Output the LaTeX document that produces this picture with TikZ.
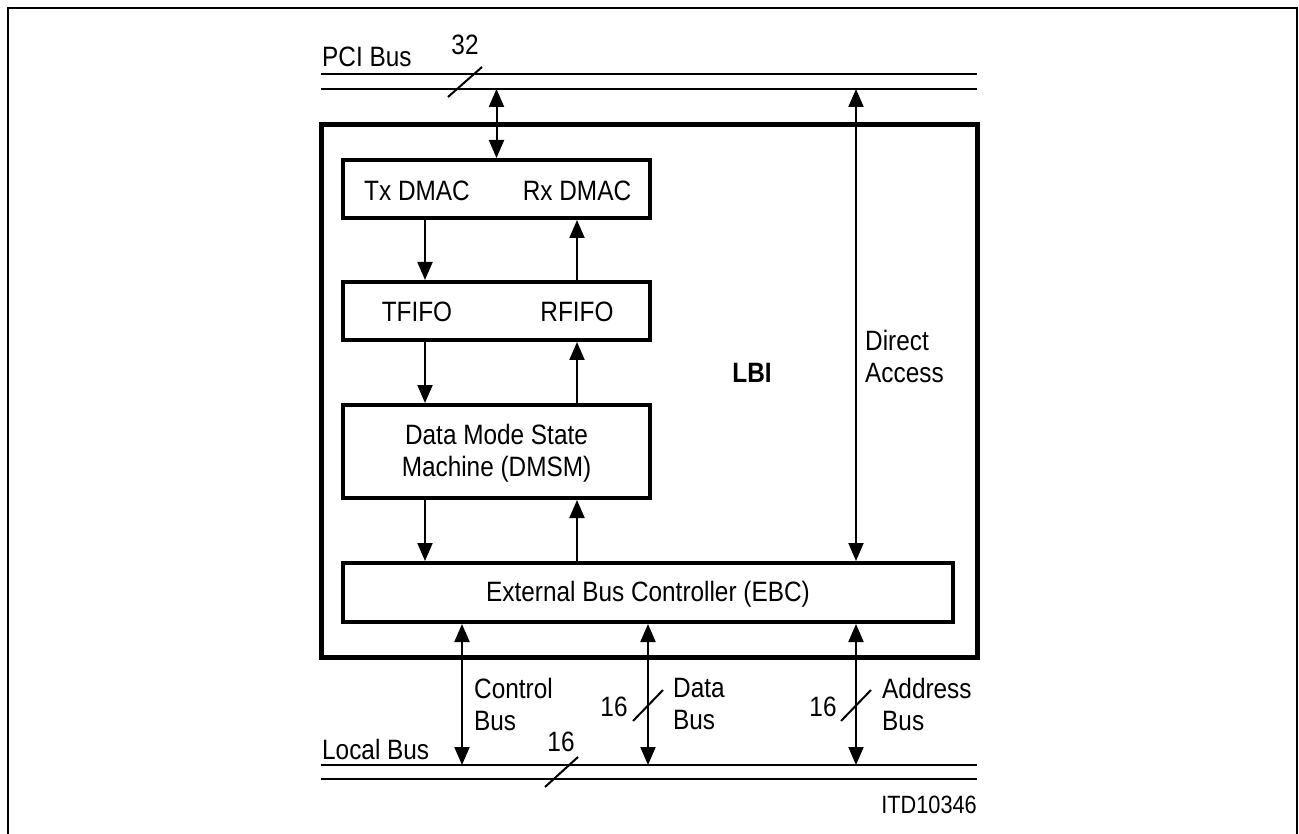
\documentclass[tikz,border=0pt]{standalone}
\usepackage{fontspec}
\setmainfont[FakeStretch=0.87]{Liberation Sans}
\usetikzlibrary{arrows.meta}
\begin{document}
\begin{tikzpicture}[x=1pt,y=-1pt,
  txt/.style={font=\fontsize{28}{32}\selectfont, inner sep=0pt},
  lbltxt/.style={txt, anchor=west, align=left},
  blk/.style={draw, line width=4pt, inner sep=0pt},
  bus/.style={line width=2pt},
  conn/.style={line width=2pt},
  arr/.style={conn, -{Triangle[width=15pt,length=18pt]}},
  darr/.style={conn, {Triangle[width=15pt,length=18pt]}-{Triangle[width=15pt,length=18pt]}},
  slash/.style={line width=2pt}
]
\useasboundingbox (0,0) rectangle (1299,834);
% outer frame
\draw[line width=2.5pt] (8,845) -- (8,8) -- (1297,8) -- (1297,845);

% PCI bus
\coordinate (pciL1) at (321,74); \coordinate (pciR1) at (977,74);
\coordinate (pciL2) at (321,89); \coordinate (pciR2) at (977,89);
\draw[bus] (pciL1) -- (pciR1);
\draw[bus] (pciL2) -- (pciR2);
\node[txt, anchor=base west] (pcilbl) at (322,67) {PCI Bus};
\coordinate (ps1) at (448,97); \coordinate (ps2) at (482,67);
\draw[slash] (ps1) -- (ps2);
\node[txt, anchor=base] (p32) at (465,55) {32};

% Local bus
\coordinate (locL1) at (321,765); \coordinate (locR1) at (977,765);
\coordinate (locL2) at (321,779); \coordinate (locR2) at (977,779);
\draw[bus] (locL1) -- (locR1);
\draw[bus] (locL2) -- (locR2);
\node[txt, anchor=base west] (loclbl) at (322,759) {Local Bus};
\coordinate (ls1) at (545,787); \coordinate (ls2) at (578,757);
\draw[slash] (ls1) -- (ls2);
\node[txt, anchor=base] (l16) at (561,751) {16};

% LBI box
\node[draw, line width=5pt, minimum width=656pt, minimum height=532pt, inner sep=0pt] (lbi) at (649,391) {};
\node[txt, font=\fontsize{28}{32}\selectfont\bfseries, anchor=base] (lbilbl) at (752,382) {LBI};

% inner blocks
\node[blk, minimum width=307pt, minimum height=58pt] (dmac) at (496.5,189) {};
\node[txt, anchor=base] (tx) at (417,201) {Tx DMAC};
\node[txt, anchor=base] (rx) at (577,201) {Rx DMAC};

\node[blk, minimum width=307pt, minimum height=58pt] (fifo) at (496.5,311) {};
\node[txt, anchor=base] (tf) at (417,322) {TFIFO};
\node[txt, anchor=base] (rf) at (577,322) {RFIFO};

\node[blk, minimum width=307pt, minimum height=93pt] (dmsm) at (496.5,451.5) {};
\node[txt, align=center] (dmsmlbl) at (496.5,453) {Data Mode State\\Machine (DMSM)};

\node[blk, minimum width=610pt, minimum height=59pt] (ebc) at (648,592.5) {};
\node[txt, anchor=base] (ebclbl) at (648,601) {External Bus Controller (EBC)};

% column coordinates
\coordinate (cl) at (425,0);
\coordinate (cr) at (577,0);
\coordinate (cp) at (496.5,0);
\coordinate (cd) at (856,0);
\coordinate (b1) at (462,0);
\coordinate (b2) at (648,0);
\coordinate (b3) at (856,0);

% connectors
\draw[darr] (pciL2 -| cp) -- (dmac.north);
\draw[arr] (dmac.south -| cl) -- (fifo.north -| cl);
\draw[arr] (fifo.north -| cr) -- (dmac.south -| cr);
\draw[arr] (fifo.south -| cl) -- (dmsm.north -| cl);
\draw[arr] (dmsm.north -| cr) -- (fifo.south -| cr);
\draw[arr] (dmsm.south -| cl) -- (ebc.north -| cl);
\draw[arr] (ebc.north -| cr) -- (dmsm.south -| cr);
\draw[darr] (pciL2 -| cd) -- (ebc.north -| cd);
\node[lbltxt] (dalbl) at (865,356) {Direct\\Access};

\draw[darr] (ebc.south -| b1) -- (locL1 -| b1);
\draw[darr] (ebc.south -| b2) -- (locL1 -| b2);
\draw[darr] (ebc.south -| b3) -- (locL1 -| b3);

\node[lbltxt] (ctl) at (474,704) {Control\\Bus};
\node[lbltxt] (dat) at (673,704) {Data\\Bus};
\node[lbltxt] (adr) at (882,704) {Address\\Bus};

\coordinate (ds1) at (633,721); \coordinate (ds2) at (663,690);
\draw[slash] (ds1) -- (ds2);
\node[txt, anchor=base] (d16) at (614,716) {16};
\coordinate (as1) at (841,721); \coordinate (as2) at (871,690);
\draw[slash] (as1) -- (as2);
\node[txt, anchor=base] (a16) at (823,716) {16};

\node[txt, anchor=base east, font=\fontsize{25}{30}\selectfont] (itd) at (977,813) {ITD10346};
\end{tikzpicture}
\end{document}
